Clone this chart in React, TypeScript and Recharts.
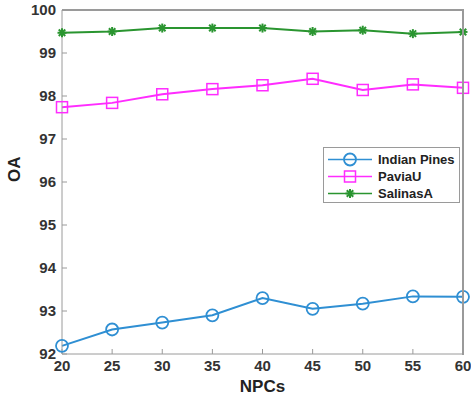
import React from 'react';
import { LineChart, Line, XAxis, YAxis } from 'recharts';

const npcs = [20, 25, 30, 35, 40, 45, 50, 55, 60];
const indianPines = [92.19, 92.57, 92.73, 92.9, 93.3, 93.05, 93.17, 93.34, 93.33];
const paviaU = [97.74, 97.84, 98.04, 98.16, 98.25, 98.4, 98.14, 98.27, 98.19];
const salinasA = [99.47, 99.5, 99.58, 99.58, 99.58, 99.5, 99.53, 99.45, 99.49];
const xTicks = [20, 25, 30, 35, 40, 45, 50, 55, 60];
const yTicks = [92, 93, 94, 95, 96, 97, 98, 99, 100];

const BLUE = '#2f8fd3';
const MAGENTA = '#ff2cff';
const GREEN = '#2a9530';
const FRAME = '#9a9a9a';
const FONT = '"Liberation Sans", Arial, sans-serif';

const data = npcs.map((n, i) => ({
  npc: n,
  indian: indianPines[i],
  pavia: paviaU[i],
  salinas: salinasA[i],
}));

const series = [
  { key: 'indian', name: 'Indian Pines', color: BLUE, marker: 'circle' },
  { key: 'pavia', name: 'PaviaU', color: MAGENTA, marker: 'square' },
  { key: 'salinas', name: 'SalinasA', color: GREEN, marker: 'star' },
];

const Marker = ({ cx, cy, kind, color }: any) => {
  if (cx == null || cy == null) return null;
  if (kind === 'circle') {
    return <circle cx={cx} cy={cy} r={6} fill="none" stroke={color} strokeWidth={1.8} />;
  }
  if (kind === 'square') {
    return <rect x={cx - 5.5} y={cy - 5.5} width={11} height={11} fill="none" stroke={color} strokeWidth={1.5} />;
  }
  const s = 4.5;
  const d = s * 0.72;
  return (
    <g stroke={color} strokeWidth={2}>
      <line x1={cx - s} y1={cy} x2={cx + s} y2={cy} />
      <line x1={cx} y1={cy - s} x2={cx} y2={cy + s} />
      <line x1={cx - d} y1={cy - d} x2={cx + d} y2={cy + d} />
      <line x1={cx - d} y1={cy + d} x2={cx + d} y2={cy - d} />
    </g>
  );
};

const LeftTick = ({ x, y, payload }: any) => (
  <text x={x} y={y} dy={5} textAnchor="end" fontFamily={FONT} fontWeight="bold" fontSize={15} fill="#333">
    {payload.value}
  </text>
);

const BottomTick = ({ x, y, payload }: any) => (
  <text x={x} y={y} dy={13} textAnchor="middle" fontFamily={FONT} fontWeight="bold" fontSize={15} fill="#333">
    {payload.value}
  </text>
);

const LegendBox = () => (
  <div
    style={{
      position: 'absolute',
      left: 323,
      top: 147,
      width: 135,
      height: 54,
      border: `1px solid ${FRAME}`,
      background: '#fff',
      fontFamily: FONT,
      fontWeight: 'bold',
      fontSize: 13,
      color: '#222',
      zIndex: 3,
    }}
  >
    {series.map((s, i) => (
      <div key={s.key} style={{ display: 'flex', alignItems: 'center', height: 17, marginTop: i === 0 ? 3 : 0 }}>
        <svg width={50} height={17} style={{ marginLeft: 2 }}>
          <line x1={2} y1={8.5} x2={46} y2={8.5} stroke={s.color} strokeWidth={1.5} />
          <Marker cx={24} cy={8.5} kind={s.marker} color={s.color} />
        </svg>
        <span style={{ marginLeft: 2 }}>{s.name}</span>
      </div>
    ))}
  </div>
);

export default function App() {
  return (
    <div style={{ position: 'absolute', left: 0, top: 0, width: 471, height: 403, background: '#fff' }}>
      <LineChart width={471} height={403} data={data} margin={{ top: 10, right: 8, bottom: 9, left: 22 }}>
        <XAxis
          dataKey="npc"
          type="number"
          domain={[20, 60]}
          ticks={xTicks}
          stroke={FRAME}
          tickLine={{ stroke: FRAME }}
          tickSize={-5}
          tickMargin={9}
          tick={<BottomTick />}
          height={40}
          label={{ value: 'NPCs', position: 'insideBottom', offset: 2, fontFamily: FONT, fontWeight: 'bold', fontSize: 17, fill: '#222' }}
        />
        <YAxis
          type="number"
          domain={[92, 100]}
          ticks={yTicks}
          stroke={FRAME}
          tickLine={{ stroke: FRAME }}
          tickSize={-5}
          tickMargin={11}
          tick={<LeftTick />}
          width={40}
          label={{ value: 'OA', angle: -90, position: 'insideLeft', offset: -8, fontFamily: FONT, fontWeight: 'bold', fontSize: 17, fill: '#222' }}
        />
        {series.map((s) => (
          <Line
            key={s.key}
            dataKey={s.key}
            name={s.name}
            stroke={s.color}
            strokeWidth={2}
            isAnimationActive={false}
            dot={(p: any) => <Marker key={`${s.key}-${p.index}`} cx={p.cx} cy={p.cy} kind={s.marker} color={s.color} />}
            activeDot={false}
          />
        ))}
      </LineChart>
      {/* top and right edges of the axes box, drawn above the chart */}
      <div
        style={{
          position: 'absolute',
          left: 62,
          top: 9,
          width: 400,
          height: 344,
          borderTop: `2px solid ${FRAME}`,
          borderRight: `2px solid ${FRAME}`,
          pointerEvents: 'none',
          zIndex: 2,
        }}
      />
      <LegendBox />
    </div>
  );
}
